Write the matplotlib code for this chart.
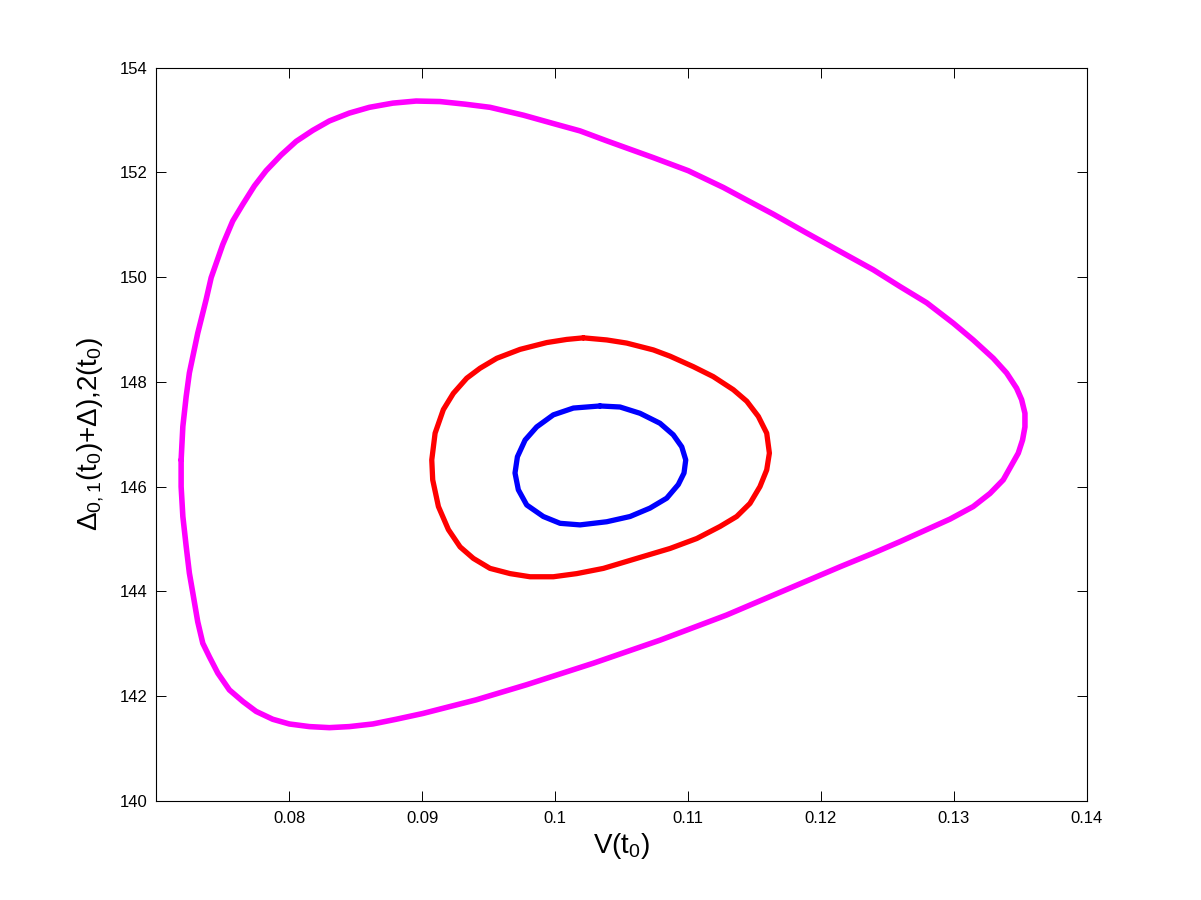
import matplotlib
matplotlib.use("Agg")
import matplotlib.pyplot as plt
from matplotlib.ticker import FormatStrFormatter

# curves (V(t0), delta), each one a closed loop
mag_v = [0.07188, 0.07201, 0.07226, 0.07250, 0.07313, 0.07376, 0.07414, 0.07501,
         0.07576, 0.07652, 0.07739, 0.07827, 0.07940, 0.08053, 0.08178, 0.08303,
         0.08453, 0.08604, 0.08780, 0.08955, 0.09135, 0.09323, 0.09511, 0.09762,
         0.10002, 0.10188, 0.10389, 0.10564, 0.10739, 0.11002, 0.11266, 0.11442,
         0.11642, 0.11893, 0.12143, 0.12393, 0.12594, 0.12795, 0.12995, 0.13145,
         0.13296, 0.13396, 0.13471, 0.13509, 0.13534, 0.13534, 0.13516, 0.13484,
         0.13371, 0.13271, 0.13145, 0.12970, 0.12795, 0.12594, 0.12393, 0.12143,
         0.11893, 0.11291, 0.10790, 0.10288, 0.09787, 0.09406, 0.09205, 0.09005,
         0.08805, 0.08629, 0.08453, 0.08303, 0.08153, 0.08002, 0.07877, 0.07752,
         0.07652, 0.07551, 0.07464, 0.07401, 0.07351, 0.07313, 0.07276, 0.07250,
         0.07226, 0.07201, 0.07188]
mag_d = [146.51, 147.15, 147.72, 148.17, 148.93, 149.57, 149.99, 150.62,
         151.07, 151.39, 151.74, 152.03, 152.33, 152.59, 152.80, 152.98,
         153.13, 153.24, 153.32, 153.36, 153.35, 153.30, 153.24, 153.09,
         152.92, 152.79, 152.60, 152.44, 152.28, 152.03, 151.71, 151.47,
         151.20, 150.84, 150.49, 150.14, 149.82, 149.51, 149.12, 148.80,
         148.45, 148.17, 147.88, 147.66, 147.40, 147.14, 146.89, 146.64,
         146.13, 145.87, 145.62, 145.38, 145.18, 144.95, 144.73, 144.47,
         144.20, 143.55, 143.07, 142.63, 142.22, 141.93, 141.80, 141.67,
         141.56, 141.47, 141.42, 141.40, 141.42, 141.47, 141.56, 141.71,
         141.90, 142.12, 142.44, 142.75, 143.01, 143.42, 143.97, 144.35,
         144.86, 145.43, 146.00]

red_v = [0.10213, 0.10389, 0.10539, 0.10739, 0.10865, 0.11040, 0.11190, 0.11341,
         0.11442, 0.11529, 0.11592, 0.11612, 0.11592, 0.11541, 0.11466, 0.11366,
         0.11241, 0.11066, 0.10865, 0.10614, 0.10364, 0.10163, 0.09987, 0.09812,
         0.09662, 0.09511, 0.09386, 0.09286, 0.09198, 0.09123, 0.09080, 0.09073,
         0.09098, 0.09160, 0.09235, 0.09336, 0.09436, 0.09562, 0.09737, 0.09938,
         0.10088]
red_d = [148.84, 148.80, 148.74, 148.61, 148.49, 148.29, 148.10, 147.85,
         147.63, 147.34, 147.02, 146.64, 146.32, 146.00, 145.68, 145.43,
         145.24, 145.01, 144.82, 144.63, 144.44, 144.34, 144.28, 144.28,
         144.34, 144.44, 144.63, 144.85, 145.18, 145.62, 146.13, 146.51,
         147.02, 147.47, 147.78, 148.07, 148.26, 148.45, 148.62, 148.75,
         148.81]

blue_v = [0.10338, 0.10489, 0.10639, 0.10789, 0.10889, 0.10953, 0.10983, 0.10970,
          0.10927, 0.10840, 0.10714, 0.10564, 0.10389, 0.10188, 0.10038, 0.09912,
          0.09787, 0.09724, 0.09699, 0.09717, 0.09775, 0.09862, 0.09987, 0.10138]
blue_d = [147.54, 147.52, 147.40, 147.21, 146.99, 146.76, 146.51, 146.26,
          146.04, 145.78, 145.59, 145.43, 145.33, 145.27, 145.30, 145.43,
          145.65, 145.94, 146.26, 146.57, 146.89, 147.14, 147.37, 147.50]

x_ticks = [0.08, 0.09, 0.10, 0.11, 0.12, 0.13, 0.14]
y_ticks = [140, 142, 144, 146, 148, 150, 152, 154]

plt.rcParams['font.family'] = ['Liberation Sans', 'DejaVu Sans']
plt.rcParams['mathtext.default'] = 'regular'

fig = plt.figure(figsize=(12.01, 9), dpi=100)
ax = fig.add_axes([0.13, 0.11, 0.775, 0.815])

for v, d, c, lw in [(mag_v, mag_d, '#ff00ff', 4.0),
                    (red_v, red_d, '#ff0000', 3.8),
                    (blue_v, blue_d, '#0000ff', 3.8)]:
    ax.plot(v + v[:1], d + d[:1], color=c, lw=lw,
            solid_joinstyle='round', solid_capstyle='round')

ax.set_xlim(0.07, 0.14)
ax.set_ylim(140, 154)
ax.set_xticks(x_ticks)
ax.set_yticks(y_ticks)
ax.xaxis.set_major_formatter(FormatStrFormatter('%g'))
ax.tick_params(direction='in', length=7, width=0.7, top=True, right=True,
               labelsize=12)
ax.tick_params(axis='x', pad=7)
ax.tick_params(axis='y', pad=6)
for s in ax.spines.values():
    s.set_linewidth(0.8)

ax.set_xlabel(r'V(t$_0$)', fontsize=20, labelpad=4)
ax.set_ylabel(r'$\Delta_{0,1}$(t$_0$)+$\Delta$),2(t$_0$)', fontsize=20, labelpad=10)

fig.savefig('out.png', dpi=100)
